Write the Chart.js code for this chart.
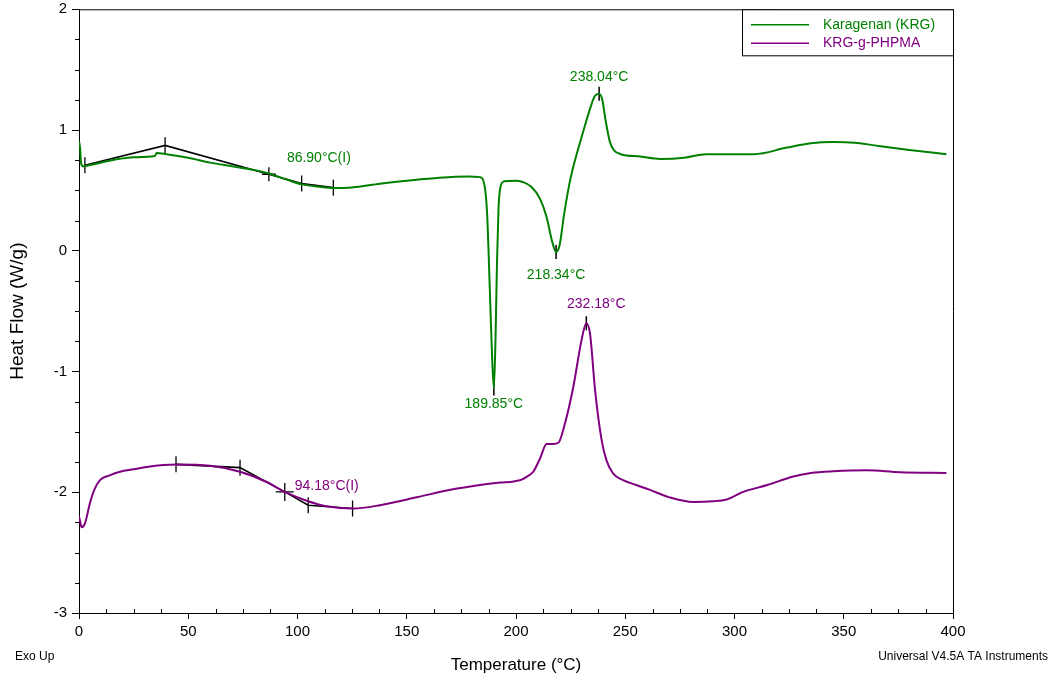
<!DOCTYPE html>
<html>
<head>
<meta charset="utf-8">
<script src="https://cdn.jsdelivr.net/npm/chart.js@4.4.1/dist/chart.umd.min.js"></script>
<style>
  html, body { margin: 0; padding: 0; background: #fff; }
  #wrap { width: 1062px; height: 680px; }
</style>
</head>
<body>
<div id="wrap"><canvas id="dsc"></canvas></div>
<script>
// Karagenan (KRG) curve
const tempKRG = [0, 0.5, 1.0, 2, 5, 15, 25, 34.8, 35.5, 40, 50, 60, 70, 80, 86.9, 95, 102, 110, 117, 125, 137.8,
  150, 165, 178, 183.5, 185.5, 186.8, 187.8, 188.8, 189.85, 190.6, 191.3, 192, 192.8, 194.5, 200, 203, 207, 211,
  214, 216.5, 218.34, 220, 222, 224.5, 226, 230, 234.5, 236, 238.04, 239.5, 241, 243, 245, 248, 257, 266, 277,
  287, 300, 309, 324, 335, 345, 355, 364, 380, 397];
const hfKRG = [0.91, 0.85, 0.72, 0.70, 0.71, 0.75, 0.775, 0.785, 0.81, 0.80, 0.77, 0.73, 0.70, 0.67, 0.64, 0.59,
  0.55, 0.53, 0.52, 0.525, 0.556, 0.58, 0.605, 0.615, 0.61, 0.55, 0.30, -0.20, -0.75, -1.14, -0.75, -0.10, 0.35,
  0.52, 0.575, 0.58, 0.57, 0.53, 0.43, 0.28, 0.08, -0.01, 0.05, 0.30, 0.56, 0.68, 0.94, 1.21, 1.28, 1.30, 1.25,
  1.08, 0.90, 0.83, 0.80, 0.78, 0.76, 0.77, 0.80, 0.80, 0.80, 0.855, 0.89, 0.90, 0.895, 0.873, 0.835, 0.80];

// KRG-g-PHPMA curve
const tempPHPMA = [0, 0.5, 1.2, 2.7, 5, 7, 9.6, 14, 18.8, 25, 31, 44.7, 60, 73.7, 85.9, 94.18, 104.2, 113.4, 125.5,
  137.8, 155, 170, 183.5, 192.7, 199, 202.6, 205, 207.9, 211, 214, 217, 219.4, 222.4, 226.2, 230, 232.18, 233.9,
  236.2, 239.2, 241.5, 244.5, 249, 255, 261.3, 270, 281.1, 290, 296.4, 304, 315, 326.9, 335, 345.2, 360.5, 375.7, 397];
const hfPHPMA = [-2.2, -2.24, -2.29, -2.26, -2.09, -1.98, -1.90, -1.86, -1.83, -1.81, -1.79, -1.77, -1.78, -1.83,
  -1.915, -1.997, -2.07, -2.116, -2.135, -2.107, -2.04, -1.98, -1.94, -1.92, -1.91, -1.895, -1.87, -1.83, -1.72,
  -1.60, -1.60, -1.59, -1.43, -1.13, -0.74, -0.60, -0.69, -1.157, -1.57, -1.74, -1.846, -1.90, -1.94, -1.98, -2.04,
  -2.08, -2.075, -2.06, -1.997, -1.94, -1.87, -1.84, -1.826, -1.818, -1.835, -1.84];

// glass transition construction lines
const tangentKRG_T = [2.7, 39.4, 86.9, 101.9, 116.4];
const tangentKRG_HF = [0.708, 0.873, 0.634, 0.557, 0.523];
const tangentPHPMA_T = [44.4, 73.7, 94.18, 104.9, 125.2];
const tangentPHPMA_HF = [-1.769, -1.796, -1.997, -2.107, -2.135];

// peak marks and labels
const peakT = [238.04, 218.34, 189.85, 232.18];
const peakHF = [1.30, -0.01, -1.14, -0.60];
const peakText = ['238.04°C', '218.34°C', '189.85°C', '232.18°C'];
const tgText = ['86.90°C(I)', '94.18°C(I)'];

const xTicks = [0, 50, 100, 150, 200, 250, 300, 350, 400];
const yTicks = [2, 1, 0, -1, -2, -3];

const GREEN = '#008000';
const PURPLE = '#800080';
const FONT = '"Liberation Sans", Arial, sans-serif';

function pts(xs, ys) {
    return xs.map((x, i) => ({ x: x, y: ys[i] }));
}

// Etiquetas, marco, leyenda y textos del pie
const extras = {
    id: 'extras',
    afterDraw(chart) {
        const ctx = chart.ctx;
        const a = chart.chartArea;
        const xs = chart.scales.x;
        const ys = chart.scales.y;
        ctx.save();

        // marco superior y derecho
        ctx.strokeStyle = '#000';
        ctx.lineWidth = 1;
        ctx.beginPath();
        ctx.moveTo(a.left, a.top + 0.5);
        ctx.lineTo(a.right + 0.5, a.top + 0.5);
        ctx.lineTo(a.right + 0.5, a.bottom);
        ctx.stroke();

        // marcas menores
        ctx.beginPath();
        for (let v = -3; v < 2; v += 0.25) {
            if (Number.isInteger(v)) continue;
            const py = Math.round(ys.getPixelForValue(v)) + 0.5;
            ctx.moveTo(a.left - 4, py);
            ctx.lineTo(a.left, py);
        }
        for (let t = 0; t < 400; t += 12.5) {
            if (t % 50 === 0) continue;
            const px = Math.round(xs.getPixelForValue(t)) + 0.5;
            ctx.moveTo(px, a.bottom);
            ctx.lineTo(px, a.bottom - 4);
        }
        ctx.stroke();

        // etiquetas de picos
        ctx.font = '14px ' + FONT;
        ctx.textBaseline = 'middle';
        const offs = [[0, -17], [0, 23], [0, 16], [10, -19]];
        peakText.forEach((txt, i) => {
            ctx.fillStyle = i === 3 ? PURPLE : GREEN;
            ctx.textAlign = 'center';
            ctx.fillText(txt, xs.getPixelForValue(peakT[i]) + offs[i][0], ys.getPixelForValue(peakHF[i]) + offs[i][1]);
        });
        ctx.textAlign = 'left';
        ctx.fillStyle = GREEN;
        ctx.fillText(tgText[0], xs.getPixelForValue(tangentKRG_T[2]) + 18, ys.getPixelForValue(tangentKRG_HF[2]) - 16);
        ctx.fillStyle = PURPLE;
        ctx.fillText(tgText[1], xs.getPixelForValue(tangentPHPMA_T[2]) + 10, ys.getPixelForValue(tangentPHPMA_HF[2]) - 6);

        // leyenda
        const lx = 742.5, ly = a.top + 0.5, lw = a.right - 742, lh = 46;
        ctx.fillStyle = '#fff';
        ctx.fillRect(lx, ly, lw, lh);
        ctx.strokeStyle = '#000';
        ctx.lineWidth = 1;
        ctx.strokeRect(lx, ly, lw, lh);
        const legendColors = [GREEN, PURPLE];
        [0, 1].forEach(i => {
            const ds = chart.data.datasets[i];
            const yy = a.top + 15.5 + i * 18.5;
            ctx.strokeStyle = legendColors[i];
            ctx.lineWidth = 1.5;
            ctx.beginPath();
            ctx.moveTo(751, yy);
            ctx.lineTo(809, yy);
            ctx.stroke();
            ctx.fillStyle = legendColors[i];
            ctx.fillText(ds.label, 823, yy);
        });

        // textos del pie
        ctx.fillStyle = '#000';
        ctx.font = '12px ' + FONT;
        ctx.textAlign = 'left';
        ctx.fillText('Exo Up', 15, 657);
        ctx.textAlign = 'right';
        ctx.fillText('Universal V4.5A TA Instruments', 1048, 657);
        ctx.restore();
    }
};

const tickStyle = i => i === 2 ? 'cross' : 'line';

new Chart(document.getElementById('dsc'), {
    type: 'scatter',
    data: {
        datasets: [{
            label: 'Karagenan (KRG)',
            data: pts(tempKRG, hfKRG),
            showLine: true,
            borderColor: GREEN,
            borderWidth: 2,
            pointRadius: 0,
            cubicInterpolationMode: 'monotone'
        }, {
            label: 'KRG-g-PHPMA',
            data: pts(tempPHPMA, hfPHPMA),
            showLine: true,
            borderColor: PURPLE,
            borderWidth: 2,
            pointRadius: 0,
            cubicInterpolationMode: 'monotone'
        }, {
            label: 'tangent KRG',
            data: pts(tangentKRG_T, tangentKRG_HF),
            showLine: true,
            borderColor: '#000',
            borderWidth: 1.6,
            pointStyle: ctx => tickStyle(ctx.dataIndex),
            rotation: ctx => tickStyle(ctx.dataIndex) === 'line' ? 90 : 0,
            pointRadius: ctx => tickStyle(ctx.dataIndex) === 'line' ? 8 : 7,
            pointBorderColor: '#000',
            pointBorderWidth: 1.3
        }, {
            label: 'tangent PHPMA',
            data: pts(tangentPHPMA_T, tangentPHPMA_HF),
            showLine: true,
            borderColor: '#000',
            borderWidth: 1.6,
            pointStyle: ctx => tickStyle(ctx.dataIndex),
            rotation: ctx => tickStyle(ctx.dataIndex) === 'line' ? 90 : 0,
            pointRadius: ctx => tickStyle(ctx.dataIndex) === 'line' ? 8 : 9,
            pointBorderColor: '#000',
            pointBorderWidth: 1.3
        }, {
            label: 'peaks',
            data: pts(peakT, peakHF),
            showLine: false,
            pointStyle: 'line',
            rotation: 90,
            pointRadius: 7,
            pointBorderColor: '#000',
            pointBorderWidth: 1.5
        }]
    },
    options: {
        responsive: true,
        maintainAspectRatio: false,
        animation: false,
        layout: { padding: { left: 0, top: 8, right: 109, bottom: 0 } },
        plugins: {
            legend: { display: false },
            tooltip: { enabled: false }
        },
        scales: {
            x: {
                type: 'linear',
                min: 0,
                max: 400,
                afterFit: s => { s.height = 67; s.paddingLeft = 0; s.paddingRight = 0; },
                afterBuildTicks: s => { s.ticks = xTicks.map(v => ({ value: v })); },
                ticks: { color: '#000', font: { family: FONT, size: 15 }, padding: 4, maxRotation: 0 },
                grid: { drawOnChartArea: false, drawTicks: true, tickLength: 6, color: '#000' },
                border: { display: true, color: '#000', width: 1 },
                title: { display: true, text: 'Temperature (°C)', color: '#000', font: { family: FONT, size: 17 }, padding: { top: 12 } }
            },
            y: {
                type: 'linear',
                min: -3,
                max: 2,
                afterFit: s => { s.width = 79; s.paddingTop = 0; s.paddingBottom = 0; },
                afterBuildTicks: s => { s.ticks = yTicks.map(v => ({ value: v })); },
                ticks: { color: '#000', font: { family: FONT, size: 15 }, padding: 5 },
                grid: { drawOnChartArea: false, drawTicks: true, tickLength: 7, color: '#000' },
                border: { display: true, color: '#000', width: 1 },
                title: { display: true, text: 'Heat Flow (W/g)', color: '#000', font: { family: FONT, size: 19 }, padding: { top: 6 } }
            }
        }
    },
    plugins: [extras]
});
</script>
</body>
</html>
